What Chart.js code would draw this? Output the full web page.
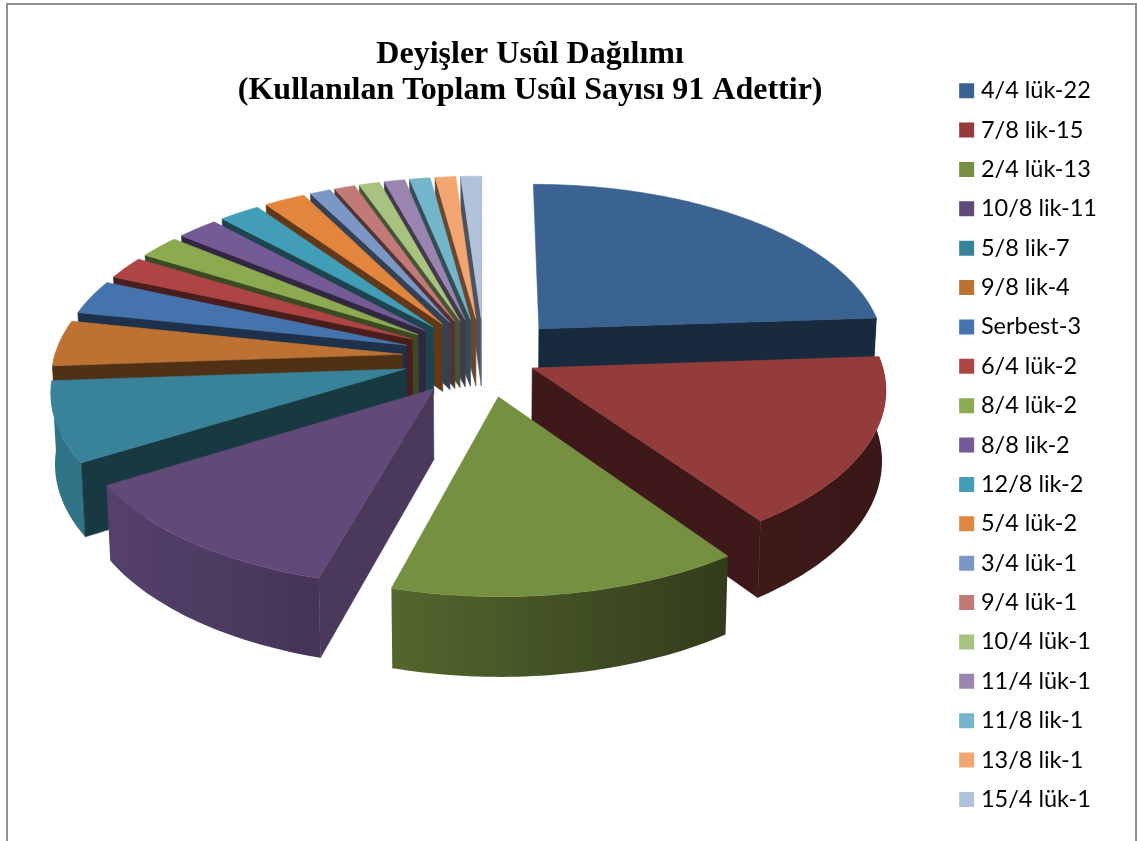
<!DOCTYPE html>
<html><head><meta charset="utf-8">
<style>html,body{margin:0;padding:0;background:#fff;overflow:hidden}canvas{display:block}</style>
<script src="https://cdn.jsdelivr.net/npm/chart.js@4"></script></head>
<body><canvas id="c" width="1137" height="841"></canvas>
<script>
const categories=["4/4 lük-22","7/8 lik-15","2/4 lük-13","10/8 lik-11","5/8 lik-7","9/8 lik-4","Serbest-3","6/4 lük-2","8/4 lük-2","8/8 lik-2","12/8 lik-2","5/4 lük-2","3/4 lük-1","9/4 lük-1","10/4 lük-1","11/4 lük-1","11/8 lik-1","13/8 lik-1","15/4 lük-1"];
const values=[22,15,13,11,7,4,3,2,2,2,2,2,1,1,1,1,1,1,1];
const colors=["#3a6391","#933c3b","#769041","#614a7a","#38839a","#bd7233","#4573ad","#ae4544","#8cab50","#745b95","#429db6","#e2853d","#7a97c5","#c27a78","#a8c280","#9a85b0","#73b6cb","#f4a672","#b3c2db"];
const explode=[82,53,82,82,82,82,82,82,82,82,82,82,82,82,82,82,82,82,82];
const titleLines=["Deyişler Usûl Dağılımı","(Kullanılan Toplam Usûl Sayısı 91 Adettir)"];
const view={cx:484,cy:357,tilt:0.48,persp:0.115/350,depth:69,conv:0.00014};

function project(X,Y,Z){
  const w=1/(1-view.persp*Y);
  return [view.cx+X*w*(1-view.conv*Z), view.cy+view.tilt*Y*w+Z*w];
}
function shade(hex,m){
  const n=parseInt(hex.slice(1),16);
  return `rgb(${(n>>16&255)*m|0},${(n>>8&255)*m|0},${(n&255)*m|0})`;
}
const pie3d={
  id:'pie3d',
  beforeDraw(chart){
    const c=chart.ctx;
    c.save();c.strokeStyle='#8f8f8f';c.lineWidth=2;
    c.beginPath();c.moveTo(7,841);c.lineTo(7,4);c.lineTo(1136,4);c.lineTo(1136,841);c.stroke();
    c.restore();
  },
  beforeDatasetsDraw(chart){
    const c=chart.ctx, meta=chart.getDatasetMeta(0);
    const list=meta.data.map((el,i)=>({el,i,
      mid:(el.startAngle+el.endAngle)/2,
      ox:Math.cos((el.startAngle+el.endAngle)/2)*el.options.offset,
      oy:Math.sin((el.startAngle+el.endAngle)/2)*el.options.offset}));
    const order=list.slice().sort((a,b)=>(a.oy+Math.sin(a.mid)*100)-(b.oy+Math.sin(b.mid)*100));
    const D=view.depth;
    const poly=(pts,fill)=>{c.beginPath();pts.forEach((p,k)=>k?c.lineTo(p[0],p[1]):c.moveTo(p[0],p[1]));c.closePath();c.fillStyle=fill;c.strokeStyle=fill;c.lineWidth=0.6;c.fill();c.stroke();};
    order.forEach(s=>{
      const {el,i,ox,oy}=s, R=el.outerRadius, col=colors[i];
      const a0=el.startAngle,a1=el.endAngle;
      const rim=(z,from,to)=>{const out=[];const n=Math.max(2,Math.ceil((to-from)/0.02));
        for(let k=0;k<=n;k++){const a=from+(to-from)*k/n;out.push(project(ox+R*Math.cos(a),oy+R*Math.sin(a),z));}return out;};
      const wall=(a,nrm)=>{
        if(Math.sin(nrm)<=0)return;
        const m=Math.cos(nrm)>0.9?0.77:0.43;
        poly([project(ox,oy,0),project(ox+R*Math.cos(a),oy+R*Math.sin(a),0),project(ox+R*Math.cos(a),oy+R*Math.sin(a),D),project(ox,oy,D)],shade(col,m));
      };
      const from=Math.max(a0,-0.08),to=Math.min(a1,Math.PI);
      if(to>from){
        const top=rim(0,from,to),bot=rim(D,from,to);
        const pts=top.concat(bot.reverse());
        const m=a=>Math.min(0.88,Math.max(0.4,0.62-0.35*Math.cos(a)));
        const g=c.createLinearGradient(top[0][0],0,top[top.length-1][0],0);
        g.addColorStop(0,shade(col,m(from)));g.addColorStop(1,shade(col,m(to)));
        c.beginPath();pts.forEach((p,k)=>k?c.lineTo(p[0],p[1]):c.moveTo(p[0],p[1]));c.closePath();c.fillStyle=g;c.fill();
      }
      wall(a0,a0-Math.PI/2);
      wall(a1,a1+Math.PI/2);
      poly([project(ox,oy,0)].concat(rim(0,a0,a1)),col);
    });
    return false;
  }
};
new Chart(document.getElementById('c'),{
  type:'pie',
  data:{labels:categories,datasets:[{data:values,backgroundColor:colors,borderWidth:0,offset:explode,radius:348}]},
  plugins:[pie3d],
  options:{
    responsive:false,animation:false,
    layout:{padding:{left:112,right:30,top:0,bottom:14}},
    plugins:{
      tooltip:{enabled:false},
      title:{display:true,text:titleLines,fullSize:false,color:'#000',padding:{top:37,bottom:10},
        font:{family:'"Liberation Serif"',size:32,weight:'bold',lineHeight:1.125}},
      legend:{position:'right',align:'end',
        labels:{usePointStyle:true,pointStyle:'rect',boxWidth:5,boxHeight:15,padding:15.875,color:'#000',
          font:{family:'Lato',size:23.5}}}
    }
  }
});
</script></body></html>
